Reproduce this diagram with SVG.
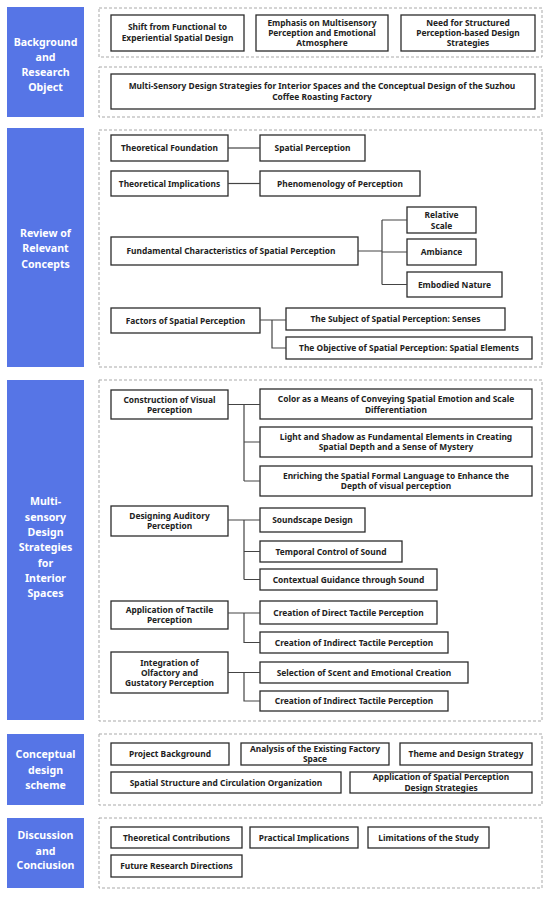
<svg xmlns="http://www.w3.org/2000/svg" width="550" height="897" viewBox="0 0 550 897">
<style>
.sec{fill:#5675E6}
.st{fill:#fff;font-family:"Noto Sans","DejaVu Sans",sans-serif;font-weight:700;font-size:10.6px;text-anchor:middle}
.dash{fill:none;stroke:#a9a9a9;stroke-width:1;stroke-dasharray:3 2}
.box{fill:#fff;stroke:#2b2b2b;stroke-width:1.3}
.bt{fill:#222;font-family:"Noto Sans","DejaVu Sans",sans-serif;font-weight:700;font-size:8.4px;text-anchor:middle}
.conn{fill:none;stroke:#444;stroke-width:1.2}
</style>
<rect width="550" height="897" fill="#fff"/>

<!-- Section 1 -->
<g id="sec-background">
<rect class="sec" x="7" y="7" width="77" height="110"/>
<text class="st" x="45.5" y="46">Background</text>
<text class="st" x="45.5" y="61">and</text>
<text class="st" x="45.5" y="76">Research</text>
<text class="st" x="45.5" y="91">Object</text>
</g>
<rect id="group-bg-a" class="dash" x="99" y="8" width="443" height="49"/>
<rect id="group-bg-b" class="dash" x="99" y="67" width="443" height="50"/>
<g id="n-shift"><rect class="box" x="111" y="15" width="133" height="36"/>
<text class="bt" x="177.5" y="30">Shift from Functional to</text>
<text class="bt" x="177.5" y="41">Experiential Spatial Design</text></g>
<g id="n-emphasis"><rect class="box" x="256" y="15" width="132" height="36"/>
<text class="bt" x="322" y="26">Emphasis on Multisensory</text>
<text class="bt" x="322" y="36">Perception and Emotional</text>
<text class="bt" x="322" y="46">Atmosphere</text></g>
<g id="n-need"><rect class="box" x="401" y="15" width="134" height="36"/>
<text class="bt" x="468" y="26">Need for Structured</text>
<text class="bt" x="468" y="36">Perception-based Design</text>
<text class="bt" x="468" y="46">Strategies</text></g>
<g id="n-title"><rect class="box" x="111" y="74" width="424" height="35"/>
<text class="bt" x="322" y="89">Multi-Sensory Design Strategies for Interior Spaces and the Conceptual Design of the Suzhou</text>
<text class="bt" x="322" y="100">Coffee Roasting Factory</text></g>

<!-- Section 2 -->
<g id="sec-review">
<rect class="sec" x="7" y="128" width="77" height="239"/>
<text class="st" x="45.5" y="237">Review of</text>
<text class="st" x="45.5" y="252">Relevant</text>
<text class="st" x="45.5" y="268">Concepts</text>
</g>
<rect id="group-review" class="dash" x="99" y="130" width="443" height="237"/>
<g id="n-tf"><rect class="box" x="111" y="135" width="117" height="26"/>
<text class="bt" x="169.5" y="151">Theoretical Foundation</text></g>
<g id="n-sp"><rect class="box" x="260" y="135" width="105" height="26"/>
<text class="bt" x="312.5" y="151">Spatial Perception</text></g>
<g id="n-ti"><rect class="box" x="111" y="171" width="117" height="25"/>
<text class="bt" x="169.5" y="186.5">Theoretical Implications</text></g>
<g id="n-pop"><rect class="box" x="260" y="171" width="160" height="25"/>
<text class="bt" x="340" y="186.5">Phenomenology of Perception</text></g>
<g id="n-rs"><rect class="box" x="407" y="207" width="69" height="26"/>
<text class="bt" x="441.5" y="218">Relative</text>
<text class="bt" x="441.5" y="229">Scale</text></g>
<g id="n-amb"><rect class="box" x="407" y="239" width="69" height="26"/>
<text class="bt" x="441.5" y="255">Ambiance</text></g>
<g id="n-emb"><rect class="box" x="407" y="272" width="95" height="25"/>
<text class="bt" x="454.5" y="287.5">Embodied Nature</text></g>
<g id="n-fc"><rect class="box" x="111" y="237" width="247" height="28"/>
<text class="bt" x="231" y="254">Fundamental Characteristics of Spatial Perception</text></g>
<g id="n-fsp"><rect class="box" x="111" y="308" width="149" height="25"/>
<text class="bt" x="185.5" y="323.5">Factors of Spatial Perception</text></g>
<g id="n-subj"><rect class="box" x="286" y="308" width="219" height="22"/>
<text class="bt" x="395.5" y="322">The Subject of Spatial Perception: Senses</text></g>
<g id="n-obj"><rect class="box" x="286" y="337" width="246" height="22"/>
<text class="bt" x="409" y="351">The Objective of Spatial Perception: Spatial Elements</text></g>

<!-- Section 3 -->
<g id="sec-multi">
<rect class="sec" x="7" y="380" width="77" height="340"/>
<text class="st" x="45.5" y="505">Multi-</text>
<text class="st" x="45.5" y="520.5">sensory</text>
<text class="st" x="45.5" y="536">Design</text>
<text class="st" x="45.5" y="551">Strategies</text>
<text class="st" x="45.5" y="566.5">for</text>
<text class="st" x="45.5" y="582">Interior</text>
<text class="st" x="45.5" y="597">Spaces</text>
</g>
<rect id="group-multi" class="dash" x="99" y="380" width="443" height="341"/>
<g id="n-cvp"><rect class="box" x="111" y="390" width="117" height="29"/>
<text class="bt" x="169.5" y="402.5">Construction of Visual</text>
<text class="bt" x="169.5" y="412.5">Perception</text></g>
<g id="n-color"><rect class="box" x="260" y="389" width="272" height="30"/>
<text class="bt" x="396" y="402">Color as a Means of Conveying Spatial Emotion and Scale</text>
<text class="bt" x="396" y="412.5">Differentiation</text></g>
<g id="n-light"><rect class="box" x="260" y="427" width="272" height="30"/>
<text class="bt" x="396" y="440">Light and Shadow as Fundamental Elements in Creating</text>
<text class="bt" x="396" y="450">Spatial Depth and a Sense of Mystery</text></g>
<g id="n-enrich"><rect class="box" x="260" y="466" width="272" height="30"/>
<text class="bt" x="396" y="479">Enriching the Spatial Formal Language to Enhance the</text>
<text class="bt" x="396" y="489">Depth of visual perception</text></g>
<g id="n-dap"><rect class="box" x="111" y="506" width="117" height="30"/>
<text class="bt" x="169.5" y="519">Designing Auditory</text>
<text class="bt" x="169.5" y="529">Perception</text></g>
<g id="n-sound"><rect class="box" x="260" y="508" width="105" height="24"/>
<text class="bt" x="312.5" y="523">Soundscape Design</text></g>
<g id="n-temp"><rect class="box" x="260" y="541" width="142" height="21"/>
<text class="bt" x="331" y="554.5">Temporal Control of Sound</text></g>
<g id="n-ctx"><rect class="box" x="260" y="569" width="177" height="21"/>
<text class="bt" x="348.5" y="582.5">Contextual Guidance through Sound</text></g>
<g id="n-atp"><rect class="box" x="111" y="601" width="117" height="28"/>
<text class="bt" x="169.5" y="613">Application of Tactile</text>
<text class="bt" x="169.5" y="623">Perception</text></g>
<g id="n-direct"><rect class="box" x="260" y="601" width="177" height="23"/>
<text class="bt" x="348.5" y="615.5">Creation of Direct Tactile Perception</text></g>
<g id="n-indirect1"><rect class="box" x="260" y="632" width="188" height="21"/>
<text class="bt" x="354" y="645.5">Creation of Indirect Tactile Perception</text></g>
<g id="n-integ"><rect class="box" x="111" y="652" width="117" height="41"/>
<text class="bt" x="169.5" y="665.5">Integration of</text>
<text class="bt" x="169.5" y="675.5">Olfactory and</text>
<text class="bt" x="169.5" y="685.5">Gustatory Perception</text></g>
<g id="n-scent"><rect class="box" x="260" y="662" width="208" height="21"/>
<text class="bt" x="364" y="675.5">Selection of Scent and Emotional Creation</text></g>
<g id="n-indirect2"><rect class="box" x="260" y="691" width="188" height="20"/>
<text class="bt" x="354" y="704">Creation of Indirect Tactile Perception</text></g>

<!-- Section 4 -->
<g id="sec-concept">
<rect class="sec" x="7" y="734" width="77" height="71"/>
<text class="st" x="45.5" y="758">Conceptual</text>
<text class="st" x="45.5" y="774">design</text>
<text class="st" x="45.5" y="789">scheme</text>
</g>
<rect id="group-concept" class="dash" x="99" y="734" width="443" height="71"/>
<g id="n-pb"><rect class="box" x="111" y="743" width="118" height="22"/>
<text class="bt" x="170" y="757">Project Background</text></g>
<g id="n-analysis"><rect class="box" x="241" y="743" width="148" height="22"/>
<text class="bt" x="315" y="752">Analysis of the Existing Factory</text>
<text class="bt" x="315" y="762">Space</text></g>
<g id="n-theme"><rect class="box" x="400" y="743" width="132" height="22"/>
<text class="bt" x="466" y="757">Theme and Design Strategy</text></g>
<g id="n-ssco"><rect class="box" x="111" y="772" width="230" height="21"/>
<text class="bt" x="226" y="785.5">Spatial Structure and Circulation Organization</text></g>
<g id="n-aspd"><rect class="box" x="350" y="772" width="182" height="21"/>
<text class="bt" x="441" y="780">Application of Spatial Perception</text>
<text class="bt" x="441" y="790.5">Design Strategies</text></g>

<!-- Section 5 -->
<g id="sec-discussion">
<rect class="sec" x="7" y="818" width="77" height="70"/>
<text class="st" x="45.5" y="839">Discussion</text>
<text class="st" x="45.5" y="855">and</text>
<text class="st" x="45.5" y="869">Conciusion</text>
</g>
<rect id="group-discussion" class="dash" x="99" y="818" width="443" height="70"/>
<g id="n-tc"><rect class="box" x="111" y="827" width="131" height="21"/>
<text class="bt" x="176.5" y="840.5">Theoretical Contributions</text></g>
<g id="n-pi"><rect class="box" x="250" y="827" width="108" height="21"/>
<text class="bt" x="304" y="840.5">Practical Implications</text></g>
<g id="n-los"><rect class="box" x="368" y="827" width="121" height="21"/>
<text class="bt" x="428.5" y="840.5">Limitations of the Study</text></g>
<g id="n-frd"><rect class="box" x="111" y="855" width="131" height="22"/>
<text class="bt" x="176.5" y="869">Future Research Directions</text></g>

<!-- Connectors -->
<g id="connectors" class="conn">
<path d="M228 148H260"/>
<path d="M228 183.5H260"/>
<path d="M358 251H382M382 220V284.5M382 220H407M382 252H407M382 284.5H407"/>
<path d="M260 320H286M272 320V348H286"/>
<path d="M228 404.5H260M244 404.5V481M244 442H260M244 481H260"/>
<path d="M228 520H260M244 520V579.5M244 551.5H260M244 579.5H260"/>
<path d="M228 613H260M244 613V642.5H260"/>
<path d="M228 672.5H260M244 672.5V701H260"/>
</g>
</svg>
